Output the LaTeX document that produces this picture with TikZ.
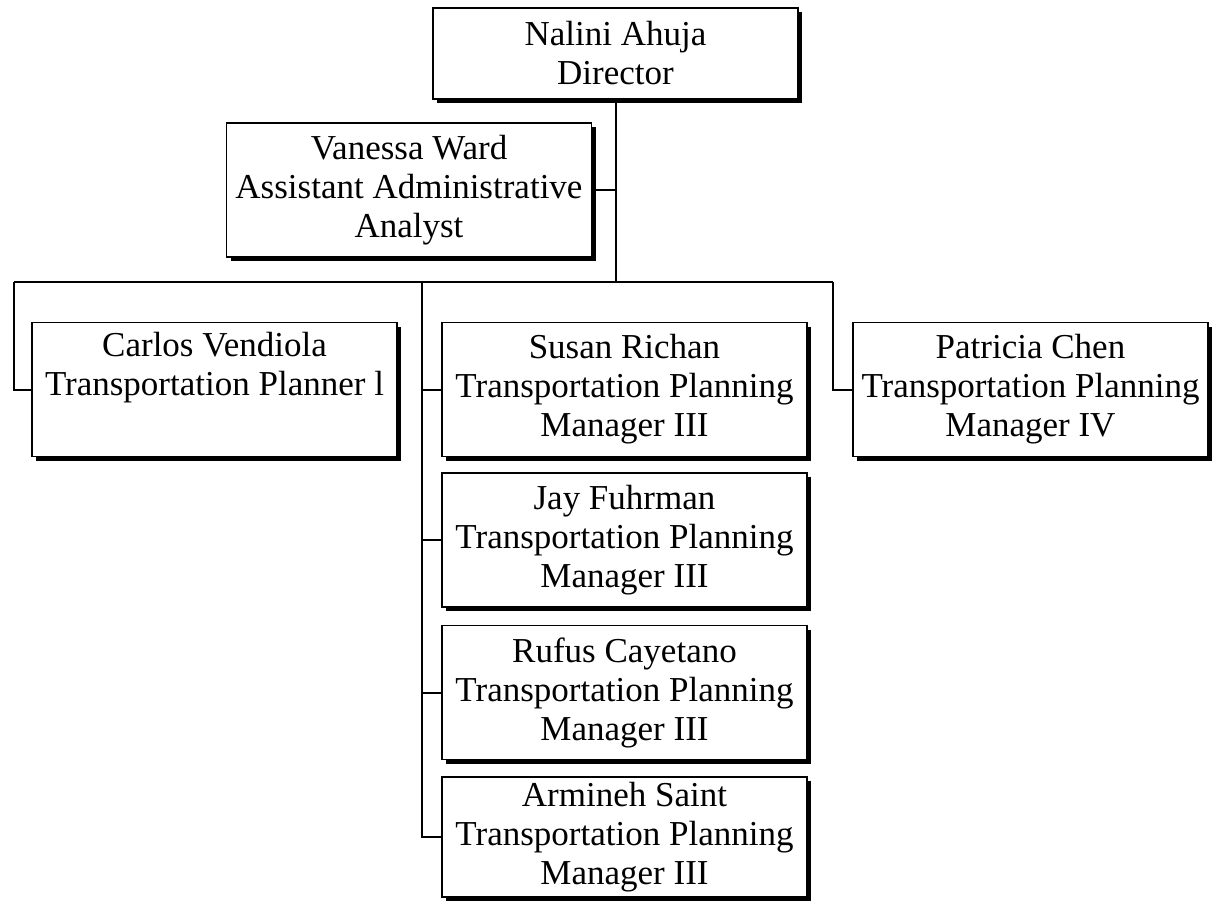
\documentclass[tikz,border=0pt]{standalone}
\usepackage{fontspec}
\setmainfont{Liberation Serif}
\usetikzlibrary{shadows}
\begin{document}
\begin{tikzpicture}[x=0.5pt,y=-0.5pt,
    box/.style={draw,line width=0.8pt,fill=white,align=center,
      minimum width=182.5pt,minimum height=67pt,inner sep=0pt,
      font=\fontsize{17.5}{19.5}\selectfont,
      general shadow={fill=black,shadow xshift=2pt,shadow yshift=-2pt}},
    link/.style={line width=1pt}]
  \useasboundingbox (0,0) rectangle (1220,907);
  \draw
    (615.5,53.5) node[box,minimum height=45.5pt] (dir){Nalini Ahuja\\Director}
    (409,190) node[box] (van){Vanessa Ward\\Assistant Administrative\\Analyst}
    (214.5,389.5) node[box] (carlos){Carlos Vendiola\\Transportation Planner l\\\strut}
    (624.5,389.5) node[box] (susan){Susan Richan\\Transportation Planning\\Manager III}
    (624.5,540) node[box] (jay){Jay Fuhrman\\Transportation Planning\\Manager III}
    (624.5,692.5) node[box] (rufus){Rufus Cayetano\\Transportation Planning\\Manager III}
    (624.5,837) node[box,minimum height=60pt] (armineh){Armineh Saint\\Transportation Planning\\Manager III}
    (1030.5,389.5) node[box,minimum width=177.5pt] (pat){Patricia Chen\\Transportation Planning\\Manager IV};
  \coordinate (top) at (dir.south |- 0,282);
  \coordinate (left) at (14,282);
  \coordinate (right) at (833,282);
  \coordinate (mid) at (422,282);
  \begin{scope}[link]
    \draw (dir.south) -- (top);
    \draw (van.east) -- (van.east -| top);
    \draw (left) -- (right);
    \draw (left) |- (carlos.west);
    \draw (right) |- (pat.west);
    \draw (mid) |- (armineh.west);
    \draw (mid |- susan.west) -- (susan.west);
    \draw (mid |- jay.west) -- (jay.west);
    \draw (mid |- rufus.west) -- (rufus.west);
  \end{scope}
\end{tikzpicture}
\end{document}
